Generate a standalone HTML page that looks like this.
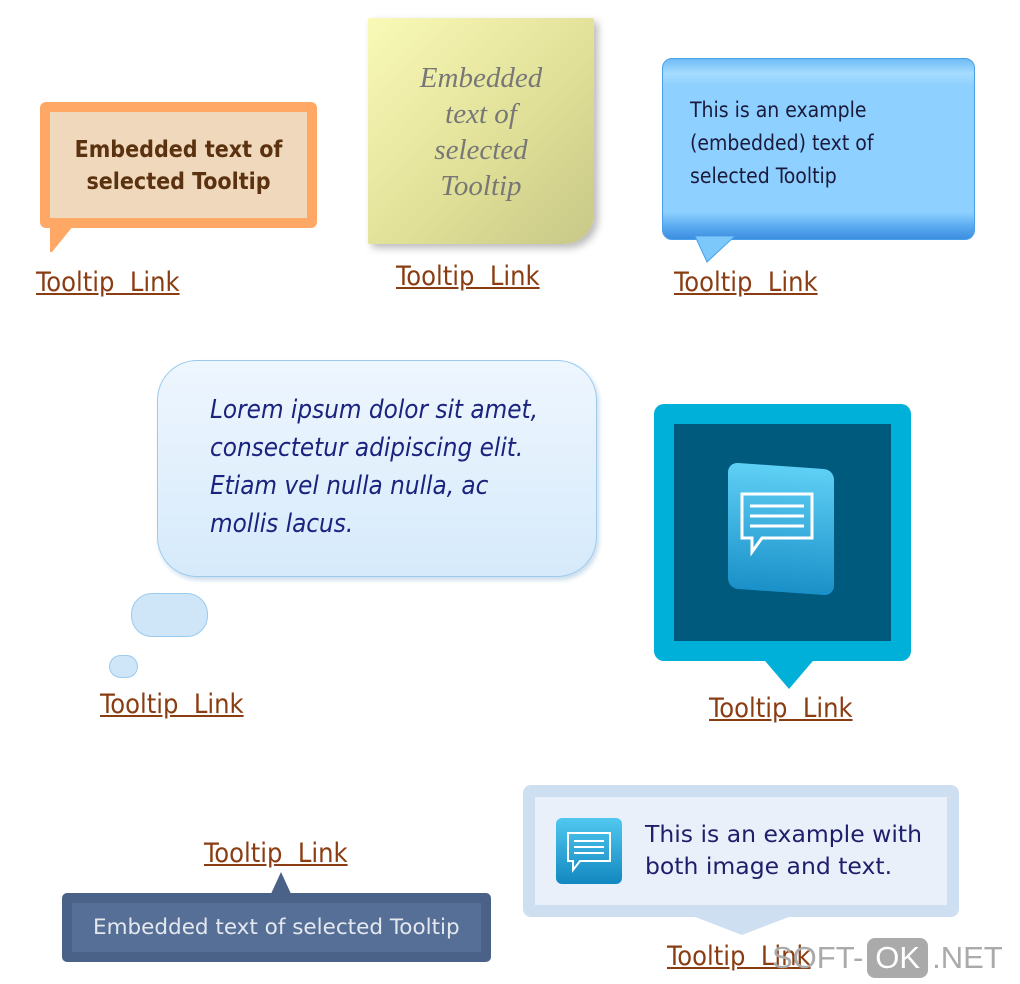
<!DOCTYPE html>
<html><head><style>
body{margin:0;width:1020px;height:984px;background:#fff;position:relative;overflow:hidden;font-family:"Liberation Sans",sans-serif}
.a{position:absolute}
.lk{position:absolute;color:#8a3d12;font-size:27px;text-decoration:underline;font-family:"DejaVu Sans Condensed","Liberation Sans",sans-serif;line-height:30px;white-space:nowrap}
</style></head><body>
<!-- 1 orange -->
<div class="a" style="left:40px;top:102px;width:277px;height:126px;background:#ffa866;border-radius:6px"></div>
<svg class="a" style="left:40px;top:220px" width="40" height="40"><polygon points="10,0 38,0 12,32 10,32" fill="#ffa866"/></svg>
<div class="a" style="left:50px;top:112px;width:257px;height:106px;background:#efd8bb"></div>
<div class="a" style="left:50px;top:134px;width:257px;text-align:center;font:bold 23px/32px 'DejaVu Sans Condensed','Liberation Sans',sans-serif;color:#5a3210">Embedded text of<br>selected Tooltip</div>
<div class="lk" style="left:36px;top:268px">Tooltip&nbsp; Link</div>
<!-- 2 sticky -->
<div class="a" style="left:368px;top:18px;width:226px;height:226px;background:linear-gradient(135deg,#fafab8,#dede96 60%,#c8c888);box-shadow:4px 4px 8px #bbb;border-radius:2px 2px 30px 2px"></div>
<div class="a" style="left:368px;top:60px;width:226px;text-align:center;font:italic 29px/36px 'Liberation Serif',serif;color:#777">Embedded<br>text of<br>selected<br>Tooltip</div>
<div class="lk" style="left:396px;top:262px">Tooltip&nbsp; Link</div>
<!-- 3 blue -->
<div class="a" style="left:662px;top:58px;width:311px;height:180px;background:linear-gradient(#6fbcf5 0,#a6dcff 8%,#8ed0ff 15%,#8ed0ff 85%,#5aaaf0 93%,#3c8ee0);border:1px solid #4aa0e8;border-radius:10px"></div>
<svg class="a" style="left:695px;top:236px" width="45" height="30"><polygon points="0,0 40,0 12,26" fill="#7cc8fa" stroke="#4aa0e8"/></svg>
<div class="a" style="left:690px;top:94px;font:21px/33px 'DejaVu Sans Condensed','Liberation Sans',sans-serif;color:#1a1a3a">This is an example<br>(embedded) text of<br>selected Tooltip</div>
<div class="lk" style="left:674px;top:268px">Tooltip&nbsp; Link</div>
<!-- 4 cloud -->
<div class="a" style="left:157px;top:360px;width:438px;height:215px;background:linear-gradient(#eef6fe,#d6eafb);border:1px solid #9ccbee;border-radius:40px;box-shadow:2px 3px 5px #c8dcec"></div>
<div class="a" style="left:131px;top:593px;width:75px;height:42px;background:#cfe5f8;border:1px solid #9ccbee;border-radius:21px"></div>
<div class="a" style="left:109px;top:655px;width:27px;height:21px;background:#cfe5f8;border:1px solid #9ccbee;border-radius:12px"></div>
<div class="a" style="left:210px;top:391px;font:italic 25.8px/38px 'DejaVu Sans Condensed','Liberation Sans',sans-serif;color:#1a237e">Lorem ipsum dolor sit amet,<br>consectetur adipiscing elit.<br>Etiam vel nulla nulla, ac<br>mollis lacus.</div>
<div class="lk" style="left:100px;top:690px">Tooltip&nbsp; Link</div>
<!-- 5 teal -->
<div class="a" style="left:654px;top:404px;width:257px;height:257px;background:#00b0d8;border-radius:10px"></div>
<svg class="a" style="left:760px;top:655px" width="60" height="36"><polygon points="0,0 58,0 29,34" fill="#00b0d8"/></svg>
<div class="a" style="left:674px;top:424px;width:217px;height:217px;background:#005a7e"></div>
<div class="a" style="left:728px;top:466px;width:106px;height:126px;background:linear-gradient(#5fd0f5,#1a90c8);border-radius:10px;transform:skewY(4deg)"></div>
<svg class="a" style="left:738px;top:490px" width="80" height="70"><path d="M4,4h70v44H24l-10,14v-14H4z" fill="none" stroke="#fff" stroke-width="3"/><g stroke="#fff" stroke-width="3"><line x1="12" y1="16" x2="66" y2="16"/><line x1="12" y1="26" x2="66" y2="26"/><line x1="12" y1="36" x2="66" y2="36"/></g></svg>
<div class="lk" style="left:709px;top:694px">Tooltip&nbsp; Link</div>
<!-- 6 dark -->
<div class="lk" style="left:204px;top:839px">Tooltip&nbsp; Link</div>
<svg class="a" style="left:268px;top:872px" width="26" height="24"><polygon points="13,0 24,24 2,24" fill="#4a6288"/></svg>
<div class="a" style="left:62px;top:893px;width:429px;height:69px;background:#4a6288;border-radius:5px"></div>
<div class="a" style="left:72px;top:903px;width:409px;height:49px;background:#566f96"></div>
<div class="a" style="left:93px;top:914px;font:21.5px/28px 'DejaVu Sans','Liberation Sans',sans-serif;color:#e4e8f0">Embedded text of selected Tooltip</div>
<!-- 7 light -->
<div class="a" style="left:523px;top:785px;width:436px;height:132px;background:#cfdff2;border-radius:8px"></div>
<svg class="a" style="left:690px;top:915px" width="104" height="22"><polygon points="0,0 104,0 52,20" fill="#cfdff2"/></svg>
<div class="a" style="left:535px;top:797px;width:412px;height:108px;background:#eaf0fa"></div>
<div class="a" style="left:556px;top:818px;width:66px;height:66px;background:linear-gradient(#50c8f0,#1288c0);border-radius:6px"></div>
<svg class="a" style="left:565px;top:830px" width="50" height="45"><path d="M3,3h42v28H15l-7,9v-9H3z" fill="none" stroke="#fff" stroke-width="2"/><g stroke="#fff" stroke-width="2"><line x1="9" y1="11" x2="39" y2="11"/><line x1="9" y1="17" x2="39" y2="17"/><line x1="9" y1="23" x2="39" y2="23"/></g></svg>
<div class="a" style="left:645px;top:818px;font:23.5px/32px 'DejaVu Sans','Liberation Sans',sans-serif;color:#1e1e6a">This is an example with<br>both image and text.</div>
<div class="lk" style="left:667px;top:942px">Tooltip&nbsp; Link</div>
<!-- watermark -->
<div class="a" style="left:772px;top:938px;font:31px/40px 'Liberation Sans',sans-serif;color:#aaa;white-space:nowrap">SOFT-<span style="display:inline-block;background:#aaa;color:#fff;border-radius:8px;padding:0 8px;margin:0 4px">OK</span>.NET</div>
</body></html>
